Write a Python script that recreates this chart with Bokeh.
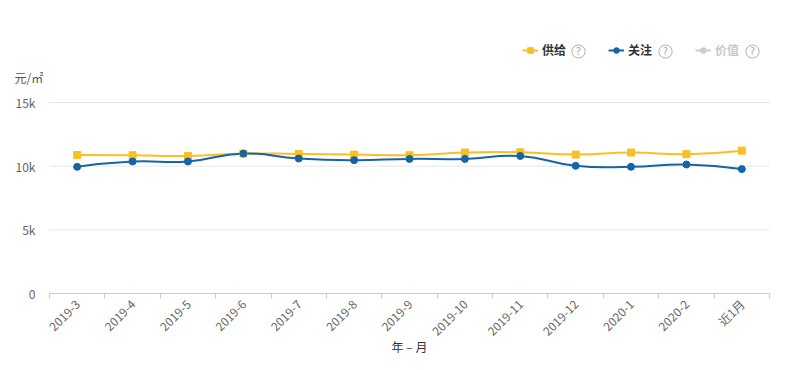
from bokeh.plotting import figure
from bokeh.models import (FixedTicker, Legend, LegendItem, Label, Range1d,
                          ColumnDataSource)
from bokeh.embed import file_html
from bokeh.resources import INLINE

# ---- data ----
categories = ["2019-3", "2019-4", "2019-5", "2019-6", "2019-7", "2019-8", "2019-9",
              "2019-10", "2019-11", "2019-12", "2020-1", "2020-2", "近1月"]
supply = [10880, 10860, 10800, 10990, 10960, 10910, 10860,
          11070, 11090, 10910, 11070, 10940, 11220]
attention = [9950, 10370, 10370, 10990, 10600, 10470, 10570,
             10570, 10800, 10030, 9950, 10130, 9770]
y_ticks = [0, 5000, 10000, 15000]
y_tick_labels = ["0", "5k", "10k", "15k"]
series_names = ["供给", "关注", "价值"]
y_unit = "元/㎡"
x_title = "年 – 月"

YELLOW = "#f8bf26"
BLUE = "#1464a8"
GREY = "#cccccc"
FONT = "Noto Sans CJK SC"

n = len(categories)
xs = list(range(n))

# ---- layout (pixels on the canvas) ----
W, H = 773, 354
x_left_px, x_right_px = 49, 769      # category band edges
y_zero_px, y_top_px = 293, 102       # pixel rows of 0 and of the top tick
band = (x_right_px - x_left_px) / n
x_start = -0.5 - x_left_px / band
x_end = -0.5 + (W - x_left_px) / band
per_px = y_ticks[-1] / (y_zero_px - y_top_px)
y_start = -(H - y_zero_px) * per_px
y_end = y_zero_px * per_px

p = figure(width=W, height=H, x_range=Range1d(x_start, x_end),
           y_range=Range1d(y_start, y_end), output_backend="svg",
           toolbar_location=None, min_border=0)
p.outline_line_color = None
p.background_fill_color = "white"
p.border_fill_color = "white"
p.xgrid.visible = False
p.ygrid.visible = False

# horizontal grid lines across the category bands only
p.segment(x0=[-0.5] * 3, x1=[n - 0.5] * 3, y0=y_ticks[1:], y1=y_ticks[1:],
          line_color="#e6e6e6", line_width=1)


def smooth_segments(x, y, s=0.5):
    cps = []
    m = len(x)
    for i in range(m):
        if 0 < i < m - 1:
            vx = (x[i + 1] - x[i - 1]) * s
            vy = (y[i + 1] - y[i - 1]) * s
            cps.append(((x[i] - vx * 0.5, y[i] - vy * 0.5),
                        (x[i] + vx * 0.5, y[i] + vy * 0.5)))
        else:
            cps.append(((x[i], y[i]), (x[i], y[i])))
    d = dict(x0=[], y0=[], x1=[], y1=[], cx0=[], cy0=[], cx1=[], cy1=[])
    for i in range(m - 1):
        d["x0"].append(x[i]); d["y0"].append(y[i])
        d["x1"].append(x[i + 1]); d["y1"].append(y[i + 1])
        d["cx0"].append(cps[i][1][0]); d["cy0"].append(cps[i][1][1])
        d["cx1"].append(cps[i + 1][0][0]); d["cy1"].append(cps[i + 1][0][1])
    return ColumnDataSource(d)


for vals, col in [(supply, YELLOW), (attention, BLUE)]:
    p.bezier(x0="x0", y0="y0", x1="x1", y1="y1", cx0="cx0", cy0="cy0",
             cx1="cx1", cy1="cy1", source=smooth_segments(xs, vals),
             line_color=col, line_width=2)

s_sup = p.scatter(xs, supply, marker="square", size=7, fill_color=YELLOW,
                  line_color=YELLOW)
s_att = p.scatter(xs, attention, marker="circle", size=7, fill_color=BLUE,
                  line_color=BLUE)

# legend-only renderers (a single NaN point draws nothing on the chart)
nan_src = lambda: ColumnDataSource(dict(x=[float("nan")], y=[float("nan")]))
l_sup = p.line("x", "y", source=nan_src(), line_color=YELLOW, line_width=2)
l_att = p.line("x", "y", source=nan_src(), line_color=BLUE, line_width=2)
l_val = p.line("x", "y", source=nan_src(), line_color=GREY, line_width=2)
s_val = p.scatter("x", "y", source=nan_src(), marker="circle", size=7,
                  fill_color=GREY, line_color=GREY)

# ---- axes ----
xa = p.xaxis[0]
xa.fixed_location = 0
xa.bounds = (-0.5, n - 0.5)
xa.ticker = FixedTicker(ticks=xs, minor_ticks=[i - 0.5 for i in range(n + 1)])
xa.major_label_overrides = {i: c for i, c in enumerate(categories)}
xa.major_label_orientation = 0.785398
xa.major_tick_line_color = None
xa.major_tick_out = 5
xa.major_tick_in = 0
xa.minor_tick_line_color = "#cccccc"
xa.minor_tick_out = 5
xa.minor_tick_in = 0
xa.axis_line_color = "#cccccc"
xa.major_label_text_font = FONT
xa.major_label_text_font_size = "12px"
xa.major_label_text_color = "#666666"
xa.major_label_standoff = 3
xa.axis_label = x_title
xa.axis_label_text_font = FONT
xa.axis_label_text_font_size = "12px"
xa.axis_label_text_font_style = "normal"
xa.axis_label_text_color = "#333333"
xa.axis_label_standoff = -10

ya = p.yaxis[0]
ya.fixed_location = -0.5
ya.ticker = FixedTicker(ticks=y_ticks)
ya.major_label_overrides = {t: l for t, l in zip(y_ticks, y_tick_labels)}
ya.axis_line_color = None
ya.major_tick_line_color = None
ya.minor_tick_line_color = None
ya.major_tick_out = 0
ya.major_tick_in = 0
ya.major_label_standoff = 14
ya.major_label_text_font = FONT
ya.major_label_text_font_size = "12px"
ya.major_label_text_color = "#666666"

# ---- legend (screen units measured from the frame's bottom-left) ----
legend_y = H - 51
common = dict(orientation="horizontal", glyph_width=16, glyph_height=14,
              label_height=14, label_standoff=4, spacing=42, padding=0,
              margin=0, border_line_color=None, background_fill_alpha=0,
              label_text_font_size="12px", label_text_font=FONT,
              label_text_font_style="bold")
leg1 = Legend(items=[LegendItem(label=series_names[0], renderers=[l_sup, s_sup]),
                     LegendItem(label=series_names[1], renderers=[l_att, s_att])],
              location=(522, legend_y - 7), label_text_color="#333333", **common)
leg2 = Legend(items=[LegendItem(label=series_names[2], renderers=[l_val, s_val])],
              location=(695, legend_y - 7), label_text_color="#c8c8c8", **common)
p.add_layout(leg1)
p.add_layout(leg2)

for qx in [578, 665, 752]:
    p.add_layout(Label(x=qx, y=legend_y, x_units="screen", y_units="screen",
                       text="?", text_align="center", text_baseline="middle",
                       text_color="#aaaaaa", text_font="DejaVu Sans",
                       text_font_size="10px", border_line_color="#b0b0b0",
                       border_line_width=1, border_radius=7,
                       padding=dict(left=4, right=4, top=1, bottom=1)))

p.add_layout(Label(x=14, y=H - 77, x_units="screen", y_units="screen",
                   text=y_unit, text_align="left", text_baseline="middle",
                   text_font=FONT, text_font_size="12px", text_color="#555555"))

open("out.html", "w").write(file_html(p, INLINE))
